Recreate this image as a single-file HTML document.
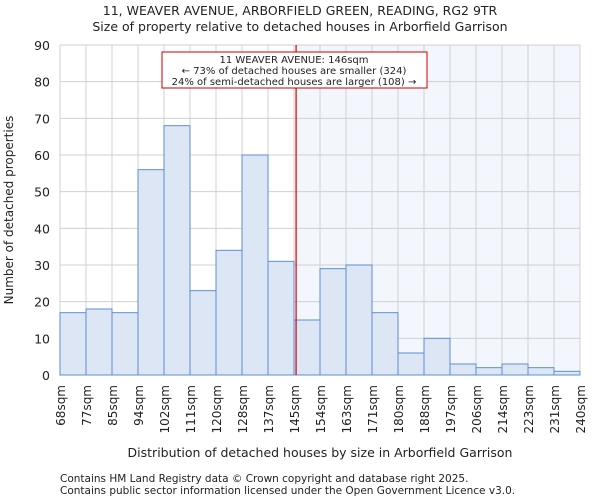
<!DOCTYPE html>
<html><head><meta charset="utf-8"><style>
body{margin:0;background:#fff;font-family:"DejaVu Sans","Liberation Sans",sans-serif;}
svg text{font-family:"DejaVu Sans","Liberation Sans",sans-serif;fill:#222;}
</style></head><body>
<svg id="chart" width="600" height="500">
<text x="300" y="15" text-anchor="middle" font-size="12.5">11, WEAVER AVENUE, ARBORFIELD GREEN, READING, RG2 9TR</text>
<text x="300" y="31" text-anchor="middle" font-size="12.5">Size of property relative to detached houses in Arborfield Garrison</text>
<g id="plot"></g>
<text x="320" y="457" text-anchor="middle" font-size="12.5">Distribution of detached houses by size in Arborfield Garrison</text>
<text transform="translate(13,210) rotate(-90)" text-anchor="middle" font-size="12">Number of detached properties</text>
<text x="60" y="482" font-size="10.5" fill="#444">Contains HM Land Registry data © Crown copyright and database right 2025.</text>
<text x="60" y="494" font-size="10.5" fill="#444">Contains public sector information licensed under the Open Government Licence v3.0.</text>
</svg>
<script>
const categories=["68sqm","77sqm","85sqm","94sqm","102sqm","111sqm","120sqm","128sqm","137sqm","145sqm","154sqm","163sqm","171sqm","180sqm","188sqm","197sqm","206sqm","214sqm","223sqm","231sqm","240sqm"];
const counts=[17,18,17,56,68,23,34,60,31,15,29,30,17,6,10,3,2,3,2,1];
const yTicks=[0,10,20,30,40,50,60,70,80,90];
const markerPos=9.08;
const NS="http://www.w3.org/2000/svg";
const L=60,R=580,T=45,B=375,yMax=90;
const n=counts.length,bw=(R-L)/n;
const xs=i=>L+i*bw;
const ys=v=>B-(v/yMax)*(B-T);
const g=document.getElementById('plot');
function mk(t,a){const e=document.createElementNS(NS,t);for(const k in a)e.setAttribute(k,a[k]);g.appendChild(e);return e;}
const mx=xs(markerPos);
const sh=mk('rect',{x:mx,y:T,width:R-mx,height:B-T,fill:'#f3f6fd'});


yTicks.forEach(v=>{
 const l=mk('line',{x1:L,x2:R,y1:ys(v),y2:ys(v),stroke:'#d0d0d0','stroke-width':1});
 
 
 const t=mk('text',{x:L-10,y:ys(v)+5,'text-anchor':'end','font-size':12.5});
 t.textContent=v;
 
 
});
categories.forEach((c,i)=>{
 const l=mk('line',{x1:xs(i),x2:xs(i),y1:T,y2:B,stroke:'#d0d0d0','stroke-width':1});
 
 
 const t=mk('text',{transform:`translate(${xs(i)+5},${B+10}) rotate(-90)`,'text-anchor':'end','font-size':12});
 t.textContent=c;
 
 
});
counts.forEach((v,i)=>{
 const r=mk('rect',{x:xs(i),y:ys(v),width:bw,height:B-ys(v),fill:'#dce6f4',stroke:'#5b8fd6','stroke-width':1});
 
 
});
const ml=mk('line',{x1:mx,x2:mx,y1:T,y2:B,stroke:'#cc0000','stroke-width':1.2});


const box=mk('rect',{x:162,y:52,width:265,height:36,fill:'#fff',stroke:'#cc0000','stroke-width':1});


["11 WEAVER AVENUE: 146sqm","← 73% of detached houses are smaller (324)","24% of semi-detached houses are larger (108) →"].forEach((s,i)=>{
 const t=mk('text',{x:294,y:63+i*11,'text-anchor':'middle','font-size':10});
 t.textContent=s;
 
 
});
</script>
</body></html>
